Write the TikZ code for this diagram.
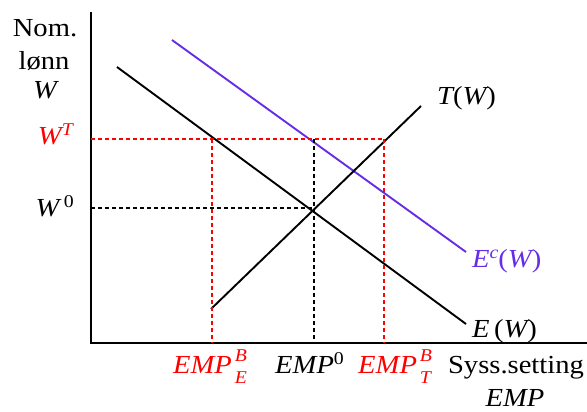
\documentclass[tikz,border=0pt]{standalone}
\usepackage{fontspec}
\setmainfont{Liberation Serif}[FakeStretch=1.1]
\definecolor{rd}{RGB}{255,0,0}
\definecolor{pu}{RGB}{102,45,230}
\newcommand{\smf}{\fontsize{18}{18}\selectfont}
\newcommand{\supsub}[2]{\rlap{\raisebox{12pt}{\smf\itshape\,#1}}\raisebox{-10pt}{\smf\itshape\,#2}}
\newcommand{\supr}[1]{\raisebox{9pt}{\smf #1}}
\begin{document}
\begin{tikzpicture}[x=1pt,y=-1pt,
  lbl/.style={inner sep=0pt,font=\fontsize{26}{30}\selectfont},
  axis/.style={line width=1.9pt},
  curve/.style={line width=1.9pt},
  guide/.style={line width=1.3pt,dash pattern=on 4pt off 3pt}]
\useasboundingbox (0,0) rectangle (587,412);
% axes
\coordinate (O) at (91,343);
\coordinate (ytop) at (91,12);
\coordinate (xend) at (587,343);
\draw[axis] (ytop) -- (O) -- (xend);
% curves
\coordinate (E1) at (117,67);
\coordinate (E2) at (466,324);
\coordinate (C1) at (172,40);
\coordinate (C2) at (466,252);
\coordinate (T1) at (211,309);
\coordinate (T2) at (421,106);
\draw[curve] (E1) -- (E2);
\draw[curve,pu] (C1) -- (C2);
\draw[curve] (T1) -- (T2);
% guide points
\coordinate (WT) at (91,139);
\coordinate (W0) at (91,208);
\coordinate (EB) at (212,139);
\coordinate (EBb) at (212,343);
\coordinate (TB) at (384,139);
\coordinate (TBb) at (384,343);
\coordinate (Q0) at (314,208);
\coordinate (Q0t) at (314,139);
\coordinate (Q0b) at (314,343);
\draw[guide,rd] (WT) -- (TB);
\draw[guide,rd] (EB) -- (EBb);
\draw[guide,rd] (TB) -- (TBb);
\draw[guide] (W0) -- (Q0);
\draw[guide] (Q0t) -- (Q0b);
% labels
\node[lbl,anchor=base] (nom) at (45,37) {Nom.};
\node[lbl,anchor=base] (lonn) at (44,70) {lønn};
\node[lbl,anchor=base] (wl) at (45,99) {\itshape W};
\node[lbl,rd,anchor=base east] (wt) at (73,144) {\itshape W\supr{T}};
\node[lbl,anchor=base east] (w0) at (74,216) {\itshape W\,\supr{\upshape 0}};
\node[lbl,anchor=base west] (tw) at (437,105) {\itshape T\upshape(\itshape W\upshape)};
\node[lbl,pu,anchor=base west] (ec) at (472,267) {\itshape E\supr{\itshape c}\upshape(\itshape W\upshape)};
\node[lbl,anchor=base west] (ew) at (472,337) {\itshape E\upshape\,(\itshape W\upshape)};
\node[lbl,rd,anchor=base west] (empe) at (173,373) {\itshape EMP\supsub{B}{E}};
\node[lbl,anchor=base west] (emp0) at (275,373) {\itshape EMP\supr{\upshape 0}};
\node[lbl,rd,anchor=base west] (empt) at (358,373) {\itshape EMP\supsub{B}{T}};
\node[lbl,anchor=base] (syss) at (516,373) {Syss.setting};
\node[lbl,anchor=base] (emp) at (515,406) {\itshape EMP};
\end{tikzpicture}
\end{document}
